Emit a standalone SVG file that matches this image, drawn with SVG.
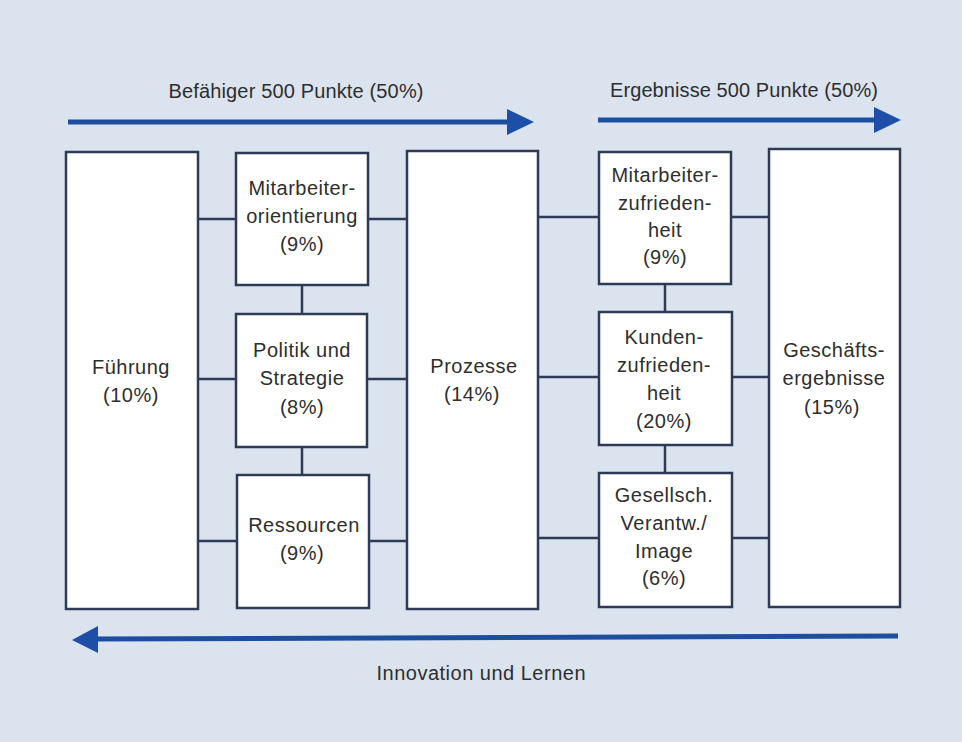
<svg xmlns="http://www.w3.org/2000/svg" width="962" height="742" viewBox="0 0 962 742">
<style>
.box{fill:#ffffff;stroke:#2d3b57;stroke-width:2.5}
.con{stroke:#2d3b57;stroke-width:2.5;fill:none}
.arr{stroke:#1d4e9e;stroke-width:5;fill:none}
.head{fill:#1d4ea8}
text{font-family:"Liberation Sans",Arial,sans-serif;fill:#2e2e2e;text-anchor:middle}
.lbl{font-size:20px;letter-spacing:0.5px}
.ttl{font-size:20px}
</style>
<rect x="0" y="0" width="962" height="742" fill="#dbe3ee"/>
<g id="arrows">
<line class="arr" x1="68" y1="122" x2="510" y2="122"/>
<polygon class="head" points="507,109 534,122 507,135"/>
<line class="arr" x1="598" y1="120" x2="877" y2="120"/>
<polygon class="head" points="874,107 901,120 874,133"/>
<line class="arr" x1="898" y1="636" x2="96" y2="639"/>
<polygon class="head" points="98,626 72,640 98,653"/>
</g>
<g id="titles">
<text class="ttl" x="296" y="98" textLength="255">Befähiger 500 Punkte (50%)</text>
<text class="ttl" x="744" y="97" textLength="268">Ergebnisse 500 Punkte (50%)</text>
<text class="ttl" x="481" y="680" textLength="209">Innovation und Lernen</text>
</g>
<g id="connectors">
<line class="con" x1="198" y1="219" x2="236" y2="219"/>
<line class="con" x1="198" y1="379" x2="236" y2="379"/>
<line class="con" x1="198" y1="541" x2="237" y2="541"/>
<line class="con" x1="368" y1="219" x2="407" y2="219"/>
<line class="con" x1="367" y1="379" x2="407" y2="379"/>
<line class="con" x1="369" y1="541" x2="407" y2="541"/>
<line class="con" x1="302" y1="285" x2="302" y2="314"/>
<line class="con" x1="302" y1="447" x2="302" y2="475"/>
<line class="con" x1="538" y1="217" x2="599" y2="217"/>
<line class="con" x1="538" y1="377" x2="599" y2="377"/>
<line class="con" x1="538" y1="538" x2="599" y2="538"/>
<line class="con" x1="731" y1="217" x2="769" y2="217"/>
<line class="con" x1="732" y1="377" x2="769" y2="377"/>
<line class="con" x1="732" y1="538" x2="769" y2="538"/>
<line class="con" x1="665" y1="284" x2="665" y2="312"/>
<line class="con" x1="665" y1="445" x2="665" y2="473"/>
</g>
<g id="fuehrung">
<rect class="box" x="66" y="152" width="132" height="457"/>
<text class="lbl" x="131" y="374">Führung</text>
<text class="lbl" x="131" y="402">(10%)</text>
</g>
<g id="mitarbeiterorientierung">
<rect class="box" x="236" y="153" width="132" height="132"/>
<text class="lbl" x="302" y="195">Mitarbeiter-</text>
<text class="lbl" x="302" y="223">orientierung</text>
<text class="lbl" x="302" y="251">(9%)</text>
</g>
<g id="politik">
<rect class="box" x="236" y="314" width="131" height="133"/>
<text class="lbl" x="302" y="357">Politik und</text>
<text class="lbl" x="302" y="385">Strategie</text>
<text class="lbl" x="302" y="414">(8%)</text>
</g>
<g id="ressourcen">
<rect class="box" x="237" y="475" width="132" height="133"/>
<text class="lbl" x="304" y="532">Ressourcen</text>
<text class="lbl" x="302" y="560">(9%)</text>
</g>
<g id="prozesse">
<rect class="box" x="407" y="151" width="131" height="458"/>
<text class="lbl" x="474" y="373">Prozesse</text>
<text class="lbl" x="472" y="401">(14%)</text>
</g>
<g id="mitarbeiterzufriedenheit">
<rect class="box" x="599" y="152" width="132" height="132"/>
<text class="lbl" x="665" y="182">Mitarbeiter-</text>
<text class="lbl" x="665" y="210">zufrieden-</text>
<text class="lbl" x="665" y="237">heit</text>
<text class="lbl" x="665" y="264">(9%)</text>
</g>
<g id="kundenzufriedenheit">
<rect class="box" x="599" y="312" width="133" height="133"/>
<text class="lbl" x="664" y="344">Kunden-</text>
<text class="lbl" x="664" y="372">zufrieden-</text>
<text class="lbl" x="664" y="400">heit</text>
<text class="lbl" x="664" y="428">(20%)</text>
</g>
<g id="gesellschaft">
<rect class="box" x="599" y="473" width="133" height="134"/>
<text class="lbl" x="664" y="502">Gesellsch.</text>
<text class="lbl" x="664" y="530">Verantw./</text>
<text class="lbl" x="664" y="558">Image</text>
<text class="lbl" x="664" y="585">(6%)</text>
</g>
<g id="geschaeftsergebnisse">
<rect class="box" x="769" y="149" width="131" height="458"/>
<text class="lbl" x="834" y="357">Geschäfts-</text>
<text class="lbl" x="834" y="385">ergebnisse</text>
<text class="lbl" x="832" y="414">(15%)</text>
</g>
</svg>
